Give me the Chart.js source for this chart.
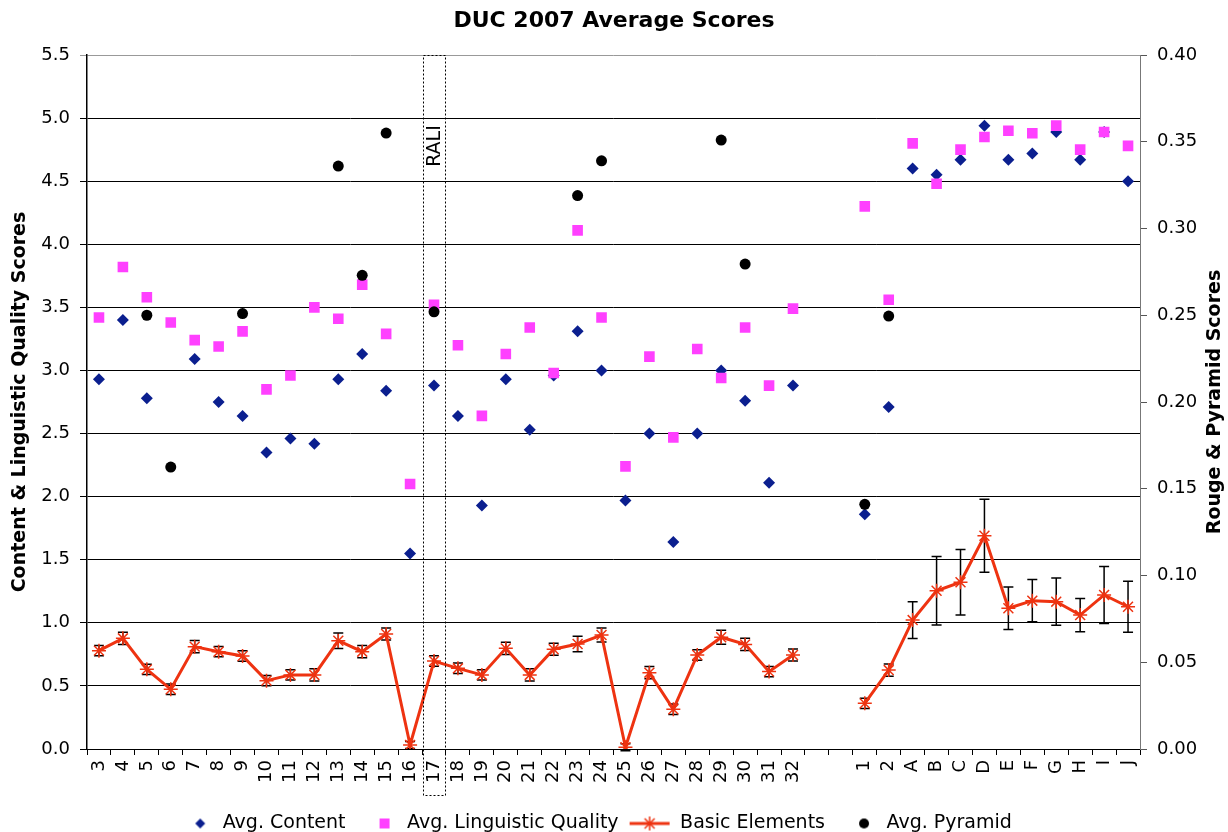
<!DOCTYPE html>
<html><head><meta charset="utf-8">
<script src="https://cdn.jsdelivr.net/npm/chart.js@4.4.1/dist/chart.umd.min.js"></script>
<style>html,body{margin:0;padding:0;background:#fff}</style>
</head><body>
<canvas id="c" width="1228" height="832"></canvas>
<script>
const categories = ['3','4','5','6','7','8','9','10','11','12','13','14','15','16','17','18','19','20','21','22','23','24','25','26','27','28','29','30','31','32','','','1','2','A','B','C','D','E','F','G','H','I','J'];
const avgContent = [2.93,3.40,2.78,null,3.09,2.75,2.64,2.35,2.46,2.42,2.93,3.13,2.84,1.55,2.88,2.64,1.93,2.93,2.53,2.96,3.31,3.00,1.97,2.50,1.64,2.50,3.00,2.76,2.11,2.88,null,null,1.86,2.71,4.60,4.55,4.67,4.94,4.67,4.72,4.89,4.67,4.89,4.50];
const avgLinguistic = [3.42,3.82,3.58,3.38,3.24,3.19,3.31,2.85,2.96,3.50,3.41,3.68,3.29,2.10,3.52,3.20,2.64,3.13,3.34,2.98,4.11,3.42,2.24,3.11,2.47,3.17,2.94,3.34,2.88,3.49,null,null,4.30,3.56,4.80,4.48,4.75,4.85,4.90,4.88,4.94,4.75,4.89,4.78];
const basicElements = [0.0567,0.0638,0.0459,0.0344,0.0590,0.0561,0.0536,0.0394,0.0427,0.0427,0.0624,0.0561,0.0663,0.0023,0.0507,0.0465,0.0427,0.0580,0.0427,0.0575,0.0605,0.0657,0.0010,0.0440,0.0229,0.0542,0.0644,0.0603,0.0446,0.0542,null,null,0.0263,0.0455,0.0743,0.0912,0.0961,0.1229,0.0811,0.0855,0.0849,0.0772,0.0888,0.0820];
const basicElementsErr = [0.003,0.0035,0.003,0.003,0.0035,0.003,0.003,0.003,0.003,0.0035,0.0045,0.0035,0.0035,0.002,0.003,0.003,0.003,0.0035,0.0035,0.0035,0.0045,0.004,0.002,0.0035,0.003,0.003,0.004,0.0035,0.003,0.0035,null,null,0.003,0.0035,0.0106,0.0197,0.0189,0.021,0.0122,0.0122,0.0136,0.0096,0.0164,0.0147];
const avgPyramid = [null,null,0.250,0.1625,null,null,0.251,null,null,null,0.336,0.273,0.355,null,0.252,null,null,null,null,null,0.319,0.339,null,null,null,null,0.351,0.2795,null,null,null,null,0.141,0.2495,null,null,null,null,null,null,null,null,null,null];
const leftTicks = [0,0.5,1,1.5,2,2.5,3,3.5,4,4.5,5,5.5];
const rightTicks = [0,0.05,0.1,0.15,0.2,0.25,0.3,0.35,0.4];
const seriesNames = ['Avg. Content','Avg. Linguistic Quality','Basic Elements','Avg. Pyramid'];
const highlightCategory = '17';
const highlightLabel = 'RALI';

const FONT = '"DejaVu Sans", Verdana, sans-serif';
const NAVY = '#0B1F8F', MAGENTA = '#FF40FF', RED = '#EE3311', BLACK = '#000';

function mkIcon(draw){const c=document.createElement('canvas');c.width=42;c.height=16;const g=c.getContext('2d');draw(g);return c;}
const icons = [
  mkIcon(g=>{g.fillStyle=NAVY;g.beginPath();g.moveTo(29,3);g.lineTo(34,8);g.lineTo(29,13);g.lineTo(24,8);g.closePath();g.fill();}),
  mkIcon(g=>{g.fillStyle=MAGENTA;g.fillRect(24,3,10,10);}),
  mkIcon(g=>{g.strokeStyle=RED;g.lineWidth=3;g.beginPath();g.moveTo(1,8);g.lineTo(41,8);g.stroke();
    g.lineWidth=1.5;g.beginPath();g.moveTo(21,1);g.lineTo(21,15);g.moveTo(16,3);g.lineTo(26,13);g.moveTo(26,3);g.lineTo(16,13);g.stroke();}),
  mkIcon(g=>{g.fillStyle=BLACK;g.beginPath();g.arc(29,8,5,0,Math.PI*2);g.fill();})
];

const extras = {
  id:'extras',
  afterLayout(chart){
    if(chart.legend){chart.legend.right -= 45;}
  },
  beforeDatasetsDraw(chart){
    const ctx=chart.ctx,x=chart.scales.x,y1=chart.scales.y1;
    ctx.save();ctx.strokeStyle='#000';ctx.lineWidth=1.5;
    basicElements.forEach((v,i)=>{
      const e=basicElementsErr[i]; if(v==null||e==null) return;
      const px=x.getPixelForValue(i), t=y1.getPixelForValue(v+e), b=y1.getPixelForValue(v-e);
      ctx.beginPath();ctx.moveTo(px,t);ctx.lineTo(px,b);
      ctx.moveTo(px-5,t);ctx.lineTo(px+5,t);ctx.moveTo(px-5,b);ctx.lineTo(px+5,b);ctx.stroke();
    });
    ctx.restore();
  },
  afterDraw(chart){
    const ctx=chart.ctx,x=chart.scales.x,a=chart.chartArea;
    const idx=categories.indexOf(highlightCategory);
    const cx=x.getPixelForValue(idx);
    ctx.save();
    ctx.strokeStyle='#000';ctx.lineWidth=1;ctx.setLineDash([2,2]);
    ctx.strokeRect(Math.round(cx-11)+0.5,a.top+0.5,22,795-a.top);
    ctx.setLineDash([]);
    ctx.fillStyle='#000';ctx.font='19px '+FONT;ctx.textAlign='center';ctx.textBaseline='middle';
    ctx.translate(cx+1,146);ctx.rotate(-Math.PI/2);ctx.fillText(highlightLabel,0,0);
    ctx.restore();
    ctx.save();
    ctx.fillStyle='#000';ctx.font='bold 19px '+FONT;ctx.textAlign='center';ctx.textBaseline='middle';
    ctx.translate(1215,(a.top+a.bottom)/2);ctx.rotate(-Math.PI/2);ctx.fillText('Rouge & Pyramid Scores',0,0);
    ctx.restore();
  }
};

new Chart(document.getElementById('c'),{
  type:'line',
  data:{labels:categories,datasets:[
    {label:seriesNames[0],data:avgContent,yAxisID:'y',showLine:false,pointStyle:'rectRot',pointRadius:6,pointHoverRadius:6,backgroundColor:NAVY,borderColor:NAVY,pointBorderWidth:0,order:3},
    {label:seriesNames[1],data:avgLinguistic,yAxisID:'y',showLine:false,pointStyle:'rect',pointRadius:7.5,pointHoverRadius:7.5,backgroundColor:MAGENTA,borderColor:MAGENTA,pointBorderWidth:0,order:1},
    {label:seriesNames[2],data:basicElements,yAxisID:'y1',showLine:true,spanGaps:false,tension:0,borderColor:RED,borderWidth:3,pointStyle:'star',pointRadius:7,pointHoverRadius:7,pointBorderColor:RED,pointBackgroundColor:RED,pointBorderWidth:1.5,order:2},
    {label:seriesNames[3],data:avgPyramid,yAxisID:'y1',showLine:false,pointStyle:'circle',pointRadius:5.5,pointHoverRadius:5.5,backgroundColor:BLACK,borderColor:BLACK,pointBorderWidth:0,order:0}
  ]},
  options:{
    responsive:false,animation:false,devicePixelRatio:1,
    layout:{padding:{left:0,right:0,top:0,bottom:-11}},
    font:{family:FONT},
    plugins:{
      title:{display:true,text:'DUC 2007 Average Scores',color:'#000',font:{family:FONT,size:22,weight:'bold',lineHeight:1.2},padding:{top:8,bottom:20.6}},
      legend:{position:'bottom',labels:{usePointStyle:true,pointStyleWidth:42,boxHeight:19,padding:10,color:'#000',font:{family:FONT,size:19},
        generateLabels:()=>seriesNames.map((n,i)=>({text:n,pointStyle:icons[i],fillStyle:'transparent',strokeStyle:'transparent',lineWidth:0,hidden:false,datasetIndex:i}))}},
      tooltip:{enabled:false}
    },
    scales:{
      x:{type:'category',offset:true,
        grid:{offset:true,drawOnChartArea:false,drawTicks:true,tickLength:6,color:'#000'},
        border:{color:'#000',width:1},
        ticks:{autoSkip:false,maxRotation:90,minRotation:90,padding:5,color:'#000',font:{family:FONT,size:18}},
        afterFit:s=>{s.height=55;}},
      y:{position:'left',min:0,max:5.5,
        afterBuildTicks:s=>{s.ticks=leftTicks.map(v=>({value:v}));},
        ticks:{padding:10,color:'#000',font:{family:FONT,size:18},callback:v=>Number(v).toFixed(1)},
        grid:{color:c=>c.tick&&c.tick.value===5.5?'#999':'#000',tickLength:7,lineWidth:1},
        border:{color:'#000',width:1.5},
        title:{display:true,text:'Content & Linguistic Quality Scores',color:'#000',font:{family:FONT,size:19,weight:'bold',lineHeight:1.2},padding:{top:9,bottom:0}},
        afterFit:s=>{s.width=87;}},
      y1:{position:'right',min:0,max:0.4,
        afterBuildTicks:s=>{s.ticks=rightTicks.map(v=>({value:v}));},
        ticks:{padding:10,color:'#000',font:{family:FONT,size:18},callback:v=>Number(v).toFixed(2)},
        grid:{drawOnChartArea:false,tickLength:7,color:'#555'},
        border:{color:'#777',width:1},
        afterFit:s=>{s.width=88;}}
    }
  },
  plugins:[extras]
});
</script>
</body></html>
